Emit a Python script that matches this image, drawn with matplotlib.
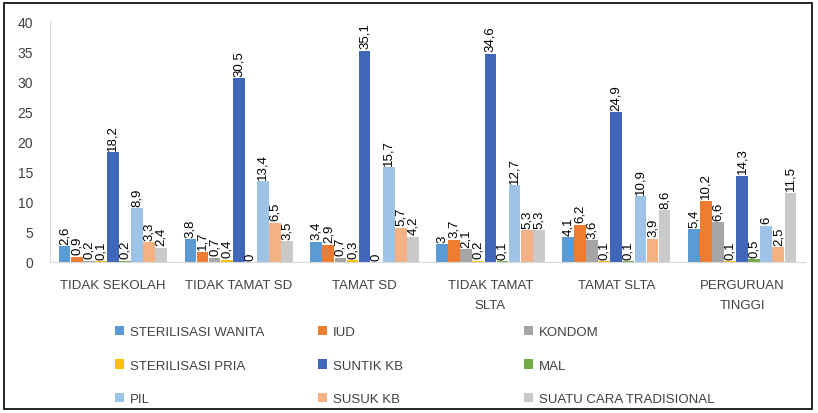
import matplotlib
matplotlib.use("Agg")
import matplotlib.pyplot as plt
import numpy as np
from matplotlib.patches import Rectangle

categories = ["TIDAK SEKOLAH", "TIDAK TAMAT SD", "TAMAT SD", "TIDAK TAMAT\nSLTA", "TAMAT SLTA", "PERGURUAN\nTINGGI"]
series_names = ["STERILISASI WANITA", "IUD", "KONDOM", "STERILISASI PRIA", "SUNTIK KB",
                "MAL", "PIL", "SUSUK KB", "SUATU CARA TRADISIONAL"]
sterilisasi_wanita = [2.6, 3.8, 3.4, 3.0, 4.1, 5.4]
iud = [0.9, 1.7, 2.9, 3.7, 6.2, 10.2]
kondom = [0.2, 0.7, 0.7, 2.1, 3.6, 6.6]
sterilisasi_pria = [0.1, 0.4, 0.3, 0.2, 0.1, 0.1]
suntik_kb = [18.2, 30.5, 35.1, 34.6, 24.9, 14.3]
mal = [0.2, 0.0, 0.0, 0.1, 0.1, 0.5]
pil = [8.9, 13.4, 15.7, 12.7, 10.9, 6.0]
susuk_kb = [3.3, 6.5, 5.7, 5.3, 3.9, 2.5]
tradisional = [2.4, 3.5, 4.2, 5.3, 8.6, 11.5]
yticks = [0, 5, 10, 15, 20, 25, 30, 35, 40]

series = [sterilisasi_wanita, iud, kondom, sterilisasi_pria, suntik_kb, mal, pil, susuk_kb, tradisional]
colors = ["#5B9BD5", "#ED7D31", "#A5A5A5", "#FFC000", "#3F66B8", "#70AD47", "#9DC3E6", "#F4B183", "#C9C9C9"]

plt.rcParams['font.family'] = ['Liberation Sans', 'DejaVu Sans']

fig = plt.figure(figsize=(8.18, 4.14), dpi=100)
ax = fig.add_axes([50/818, 1-263/414, 755/818, 241/414])

x = np.arange(len(categories))
w = 0.096
handles = []
for i, (vals, c) in enumerate(zip(series, colors)):
    pos = x + (i - 4) * w
    b = ax.bar(pos, vals, width=w*0.97, color=c, label=series_names[i])
    handles.append(b)
    for p, v in zip(pos, vals):
        txt = ("%g" % v).replace('.', ',')
        ax.text(p, v + 0.4, txt, rotation=90, ha='center', va='bottom',
                fontsize=9.5, color='#000000')

ax.set_ylim(0, 40)
ax.set_xlim(-0.5, len(categories) - 0.5)
ax.set_yticks(yticks)
ax.set_xticks(x)
ax.set_xticklabels(categories, fontsize=9.5, color='#404040', linespacing=1.9)
ax.tick_params(axis='y', labelsize=10, colors='#404040', length=0, pad=12)
ax.tick_params(axis='x', length=0, pad=12)
for s in ['top', 'right']:
    ax.spines[s].set_visible(False)
ax.spines['left'].set_color('#D9D9D9')
ax.spines['bottom'].set_color('#D9D9D9')

col_x = [115/818, 318/818, 524/818]
for col in range(3):
    idx = [col, col + 3, col + 6]
    fig.legend([handles[k] for k in idx], [series_names[k] for k in idx],
               loc='upper left', bbox_to_anchor=(col_x[col], 1 - 327/414),
               frameon=False, ncol=1, fontsize=9.5, labelcolor='#404040',
               handlelength=0.7, handleheight=0.7, handletextpad=0.4,
               labelspacing=1.6, borderpad=0, borderaxespad=0)

fig.patches.append(Rectangle((4/818, 4/414), 808/818, 406/414, transform=fig.transFigure,
                             fill=False, edgecolor='black', linewidth=1.2))

fig.savefig("out.png", dpi=100)
